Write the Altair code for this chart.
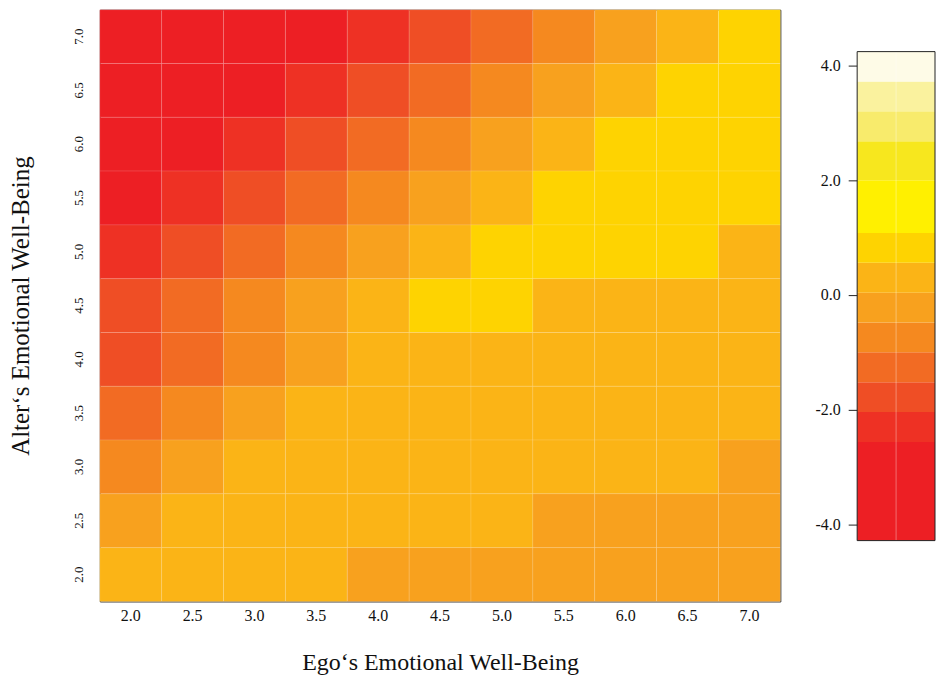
import altair as alt
import pandas as pd

# Heatmap axes (categories)
ego_levels = ["2.0", "2.5", "3.0", "3.5", "4.0", "4.5", "5.0", "5.5", "6.0", "6.5", "7.0"]
alter_levels = ["7.0", "6.5", "6.0", "5.5", "5.0", "4.5", "4.0", "3.5", "3.0", "2.5", "2.0"]

# Cell values, rows top (Alter 7.0) to bottom (Alter 2.0), columns Ego 2.0 .. 7.0
row_70 = [-3.2, -3.2, -3.2, -3.2, -2.3, -1.78, -1.26, -0.74, -0.22, 0.3, 0.82]
row_65 = [-3.2, -3.2, -3.2, -2.3, -1.78, -1.26, -0.74, -0.22, 0.3, 0.82, 0.82]
row_60 = [-3.2, -3.2, -2.3, -1.78, -1.26, -0.74, -0.22, 0.3, 0.82, 0.82, 0.82]
row_55 = [-3.2, -2.3, -1.78, -1.26, -0.74, -0.22, 0.3, 0.82, 0.82, 0.82, 0.82]
row_50 = [-2.3, -1.78, -1.26, -0.74, -0.22, 0.3, 0.82, 0.82, 0.82, 0.82, 0.3]
row_45 = [-1.78, -1.26, -0.74, -0.22, 0.3, 0.82, 0.82, 0.3, 0.3, 0.3, 0.3]
row_40 = [-1.78, -1.26, -0.74, -0.22, 0.3, 0.3, 0.3, 0.3, 0.3, 0.3, 0.3]
row_35 = [-1.26, -0.74, -0.22, 0.3, 0.3, 0.3, 0.3, 0.3, 0.3, 0.3, 0.3]
row_30 = [-0.74, -0.22, 0.3, 0.3, 0.3, 0.3, 0.3, 0.3, 0.3, 0.3, -0.22]
row_25 = [-0.22, 0.3, 0.3, 0.3, 0.3, 0.3, 0.3, -0.22, -0.22, -0.22, -0.22]
row_20 = [0.3, 0.3, 0.3, 0.3, -0.22, -0.22, -0.22, -0.22, -0.22, -0.22, -0.22]
values = [row_70, row_65, row_60, row_55, row_50, row_45, row_40, row_35, row_30, row_25, row_20]

# Stepped colour scale
thresholds = [-2.56, -2.04, -1.52, -1.0, -0.48, 0.04, 0.56, 1.08, 2.0, 2.68, 3.2, 3.72]
colors = ["#ED1F24", "#EE3124", "#EF4E25", "#F26B23", "#F5891F", "#F8A11E", "#FBB416",
          "#FED301", "#FFF000", "#F7E71E", "#F8EB6C", "#FAF29E", "#FEFBE7"]

# Colour bar bands
band_lo = [-4.28, -2.56, -2.04, -1.52, -1.0, -0.48, 0.04, 0.56, 1.08, 2.0, 2.68, 3.2, 3.72]
band_hi = [-2.56, -2.04, -1.52, -1.0, -0.48, 0.04, 0.56, 1.08, 2.0, 2.68, 3.2, 3.72, 4.24]
bar_ticks = [-4, -2, 0, 2, 4]

rows = []
for i, a in enumerate(alter_levels):
    for j, e in enumerate(ego_levels):
        rows.append({"ego": e, "alter": a, "value": values[i][j]})
df = pd.DataFrame(rows)

bar_df = pd.DataFrame({"lo": band_lo, "hi": band_hi})
bar_df["mid"] = (bar_df["lo"] + bar_df["hi"]) / 2
border_df = pd.DataFrame({"lo": [min(band_lo)], "hi": [max(band_hi)]})

FONT = "Liberation Serif"
TXT = "#111111"

heat = alt.Chart(df).mark_rect(stroke="white", strokeWidth=0.8, strokeOpacity=0.15).encode(
    x=alt.X("ego:O", sort=ego_levels,
            axis=alt.Axis(title="Ego‘s Emotional Well-Being", labelAngle=0, ticks=False,
                          domain=False, labelPadding=6, titlePadding=27,
                          labelFontSize=16, titleFontSize=24)),
    y=alt.Y("alter:O", sort=alter_levels,
            axis=alt.Axis(title="Alter‘s Emotional Well-Being", labelAngle=270,
                          labelAlign="center", labelBaseline="bottom", ticks=False,
                          domain=False, labelPadding=14, titlePadding=39,
                          labelFontSize=13, titleFontSize=25)),
    color=alt.Color("value:Q", scale=alt.Scale(type="threshold", domain=thresholds, range=colors),
                    legend=None),
).properties(width=682, height=593)

bar_w = 78
yscale = alt.Scale(domain=[-5.34, 4.97], nice=False, zero=False)
bands = alt.Chart(bar_df).mark_rect().encode(
    x=alt.value(0), x2=alt.value(bar_w),
    y=alt.Y("lo:Q", scale=yscale,
            axis=alt.Axis(values=bar_ticks, title=None, grid=False, domain=False,
                          labelExpr="datum.value < 0 ? '-' + format(-datum.value, '.1f') : format(datum.value, '.1f')",
                          tickSize=9, tickColor="#222", labelPadding=8, labelFontSize=16)),
    y2="hi:Q",
    color=alt.Color("mid:Q", scale=alt.Scale(type="threshold", domain=thresholds, range=colors),
                    legend=None),
)
midline = alt.Chart(border_df).mark_rule(color="white", strokeWidth=1, opacity=0.35).encode(
    x=alt.value(bar_w / 2),
    y=alt.Y("lo:Q", scale=yscale), y2="hi:Q",
)
border = alt.Chart(border_df).mark_rect(fillOpacity=0, stroke="#222", strokeWidth=1).encode(
    x=alt.value(0), x2=alt.value(bar_w),
    y=alt.Y("lo:Q", scale=yscale), y2="hi:Q",
)
cbar = alt.layer(bands, midline, border).properties(
    width=bar_w, height=593, view=alt.ViewBackground(stroke="transparent")
)

chart = alt.hconcat(heat, cbar, spacing=33).resolve_scale(
    color="independent", y="independent"
).properties(padding=0).configure_view(stroke="#222", strokeWidth=1).configure_axis(
    labelFont=FONT, labelColor=TXT,
    titleFont=FONT, titleFontWeight="normal", titleColor=TXT,
)

chart.save("out.html", embed_options={"renderer": "svg", "actions": False})
